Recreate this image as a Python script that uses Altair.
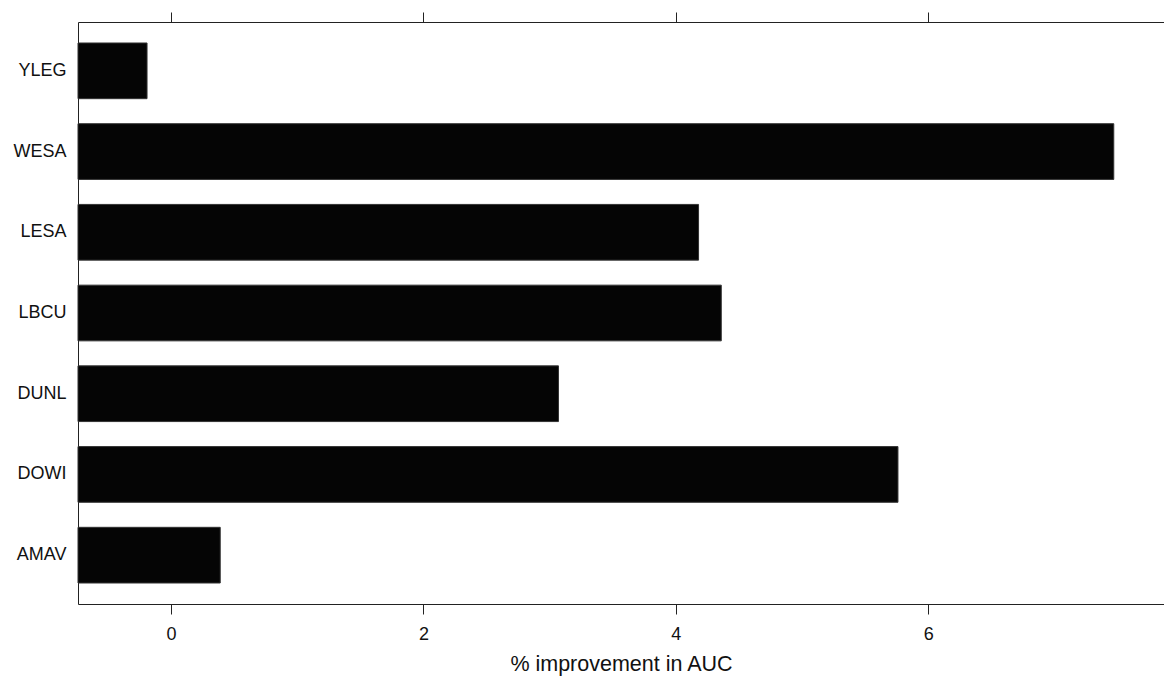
import altair as alt
import pandas as pd

species = ["YLEG", "WESA", "LESA", "LBCU", "DUNL", "DOWI", "AMAV"]
improvement = [-0.19, 7.47, 4.18, 4.36, 3.07, 5.76, 0.39]
x_ticks = [0, 2, 4, 6]
x_min, x_max = -0.737, 7.868

df = pd.DataFrame({"species": species, "improvement": improvement})

FONT = "Liberation Sans"
LINE = "#222222"
xscale = alt.Scale(domain=[x_min, x_max], nice=False, zero=False)
yscale = alt.Scale(domain=species, paddingInner=0.31, paddingOuter=0.26)

bars = alt.Chart(df).mark_bar(
    color="#050505", stroke="#333333", strokeWidth=1
).encode(
    x=alt.X("improvement:Q", scale=xscale,
            axis=alt.Axis(orient="bottom", values=x_ticks, title="% improvement in AUC",
                          domain=True, domainColor=LINE, grid=False, tickSize=10,
                          tickColor=LINE, labelFont=FONT, labelFontSize=18,
                          labelColor="#111111", labelPadding=11, titleFont=FONT,
                          titleFontSize=21.5, titleFontWeight="normal",
                          titleColor="#111111", titlePadding=10)),
    x2=alt.datum(x_min),
    y=alt.Y("species:N", scale=yscale, sort=species,
            axis=alt.Axis(title=None, domain=True, domainColor=LINE, ticks=False,
                          grid=False, labelFont=FONT, labelFontSize=18,
                          labelColor="#111111", labelPadding=12)),
)

top = alt.Chart(df).mark_point(opacity=0).encode(
    x=alt.X("improvement:Q", scale=xscale,
            axis=alt.Axis(orient="top", values=x_ticks, title=None, labels=False,
                          domain=True, domainColor=LINE, grid=False, tickSize=10,
                          tickColor=LINE)),
)

chart = alt.layer(bars, top).resolve_axis(x="independent").properties(
    width=1086, height=582,
    padding={"left": 70, "top": 14, "right": 0, "bottom": 74},
    autosize="none",
    background="white",
).configure_view(stroke=None)

chart.save("out.html", embed_options={"renderer": "svg", "actions": False})
